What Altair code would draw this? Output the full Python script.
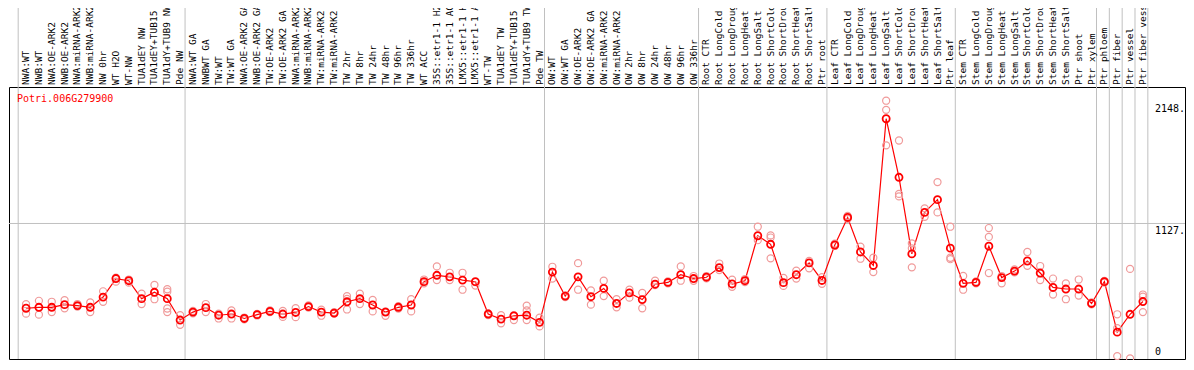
import altair as alt
import pandas as pd

gene = "Potri.006G279900"

labels = [
    "NWA:WT", "NWB:WT", "NWA:OE-ARK2", "NWB:OE-ARK2", "NWA:miRNA-ARK2", "NWB:miRNA-ARK2",
    "NW 0hr", "WT H2O", "WT-NW", "TUA1dEY NW", "TUA1dEY+TUB15", "TUA1dY+TUB9 NW", "Pde NW",
    "NWA:WT GA", "NWBWT GA", "TW:WT", "TW:WT GA", "NWA:OE-ARK2 GA", "NWB:OE-ARK2 GA",
    "TW:OE-ARK2", "TW:OE-ARK2 GA", "NWA:miRNA-ARK2", "NWB:miRNA-ARK2", "TW:miRNA-ARK2",
    "TW:miRNA-ARK2", "TW 2hr", "TW 8hr", "TW 24hr", "TW 48hr", "TW 96hr", "TW 336hr",
    "WT ACC", "35S::etr1-1 H2O", "35S::etr1-1 ACC", "LMX5::etr1-1 H2O", "LMX5::etr1-1 ACC",
    "WT-TW", "TUA1dEY TW", "TUA1dEY+TUB15", "TUA1dY+TUB9 TW", "Pde TW",
    "OW:WT", "OW:WT GA", "OW:OE-ARK2", "OW:OE-ARK2 GA", "OW:miRNA-ARK2", "OW:miRNA-ARK2",
    "OW 2hr", "OW 8hr", "OW 24hr", "OW 48hr", "OW 96hr", "OW 336hr",
    "Root CTR", "Root LongCold", "Root LongDrought", "Root LongHeat", "Root LongSalt",
    "Root ShortCold", "Root ShortDrought", "Root ShortHeat", "Root ShortSalt", "Ptr root",
    "Leaf CTR", "Leaf LongCold", "Leaf LongDrought", "Leaf LongHeat", "Leaf LongSalt",
    "Leaf ShortCold", "Leaf ShortDrought", "Leaf ShortHeat", "Leaf ShortSalt", "Ptr leaf",
    "Stem CTR", "Stem LongCold", "Stem LongDrought", "Stem LongHeat", "Stem LongSalt",
    "Stem ShortCold", "Stem ShortDrought", "Stem ShortHeat", "Stem ShortSalt", "Ptr shoot",
    "Ptr xylem", "Ptr phloem", "Ptr fiber", "Ptr vessel", "Ptr fiber vessel",
]

means = [
    422, 430, 430, 452, 444, 430, 515, 669, 651, 502, 555, 502, 324,
    390, 427, 364, 374, 337, 369, 396, 374, 387, 436, 390, 382, 476, 502, 449, 390,
    430, 449, 643, 696, 683, 656, 643, 374, 332, 359, 364, 305,
    723, 523, 683, 518, 587, 462, 550, 494, 622, 637, 701, 669,
    680, 760, 624, 651, 1025, 954, 635, 701, 799, 653,
    948, 1177, 890, 778, 1998, 1511, 874, 1219, 1325, 922,
    629, 637, 938, 677, 731, 815, 715, 595, 582, 582, 462,
    643, 223, 372, 478,
]

replicates = [
    [456, 377], [484, 369], [476, 390], [489, 422], [457, 436], [470, 390],
    [563, 476], [677, 643], [661, 635], [544, 457], [616, 497], [580, 560, 420, 390],
    [364, 284],
    [400, 380], [457, 390], [377, 337], [404, 337], [345, 330], [375, 362], [405, 390],
    [400, 350], [422, 348], [445, 428], [410, 360], [390, 378], [523, 412, 500],
    [544, 457], [491, 396], [395, 359], [440, 420], [497, 396], [661, 630], [770, 656],
    [717, 656], [717, 576], [611, 640], [380, 365], [364, 297], [365, 324],
    [444, 404, 324], [343, 271],
    [767, 669], [530, 515], [797, 576], [571, 452], [651, 523], [497, 430], [576, 510],
    [550, 422], [651, 615], [645, 630], [770, 651], [690, 650],
    [690, 670], [794, 740], [660, 600], [665, 640], [1100, 988], [1028, 1010, 837],
    [675, 608], [735, 669], [815, 754], [680, 625],
    [960, 940], [1190, 1165], [935, 834], [842, 723], [2148, 2072, 1777],
    [1817, 1373, 1352], [962, 920, 762], [1253, 1182], [1471, 1219], [1100, 842, 830],
    [691, 576], [645, 630], [1089, 1015, 715], [690, 629], [745, 720], [890, 775],
    [773, 656], [669, 536], [629, 497], [661, 528], [470, 455],
    [650, 635], [372, 257, 24], [749, 5], [536, 518, 390],
]

group_breaks = [0, 13, 41, 53, 63, 73, 84, 85, 86, 87, 88]
tick_values = [1127, 2148]
tick_labels = ["1127.", "2148."]
zero_label = ["0"]

W, H = 1176, 272
PAD_TOP = 79
FONT = "DejaVu Sans Mono"
xs = alt.Scale(domain=[-1.33, 90.28], nice=False, zero=False)
ys = alt.Scale(domain=[0, 2262], nice=False, zero=False)

df_mean = pd.DataFrame({"i": list(range(len(means))), "label": labels, "mean": means})
df_rep = pd.DataFrame(
    [{"i": i, "v": v} for i, vals in enumerate(replicates) for v in vals]
)
df_sep = pd.DataFrame({"b": [b - 0.615 for b in group_breaks]})
df_grid = pd.DataFrame({"v": [1127]})
df_ticks = pd.DataFrame({"v": tick_values, "t": tick_labels})
df_zero = pd.DataFrame({"v": [0], "t": zero_label})

X = lambda f: alt.X(f, scale=xs, axis=None)
Y = lambda f: alt.Y(f, scale=ys, axis=None)

seps = alt.Chart(df_sep).mark_rule(color="#c0c0c0", strokeWidth=1).encode(
    x=X("b:Q"), y=alt.value(-PAD_TOP), y2=alt.value(H)
)
grid = alt.Chart(df_grid).mark_rule(color="#c0c0c0", strokeWidth=1).encode(
    y=Y("v:Q"), x=alt.value(0), x2=alt.value(W)
)
cat_text = alt.Chart(df_mean).mark_text(
    angle=270, align="left", baseline="middle", font=FONT, fontSize=9.5, color="black"
).encode(x=X("i:Q"), y=alt.value(-2), text="label:N")

title = alt.Chart(pd.DataFrame({"t": [gene]})).mark_text(
    align="left", baseline="middle", font=FONT, fontSize=10, color="#ff0000"
).encode(x=alt.value(8), y=alt.value(12), text="t:N")

line = alt.Chart(df_mean).mark_line(color="#ff0000", strokeWidth=1.2).encode(
    x=X("i:Q"), y=Y("mean:Q")
)
reps = alt.Chart(df_rep).mark_point(
    shape="circle", filled=False, size=50, color="#f09a9a", strokeWidth=1.2, opacity=1
).encode(x=X("i:Q"), y=Y("v:Q"))
mean_pts = alt.Chart(df_mean).mark_point(
    shape="circle", filled=False, size=50, color="#ff0000", strokeWidth=1.8, opacity=1
).encode(x=X("i:Q"), y=Y("mean:Q"))

tick_text = alt.Chart(df_ticks).mark_text(
    align="left", baseline="top", dy=3, font=FONT, fontSize=10, color="black"
).encode(x=alt.value(1146), y=Y("v:Q"), text="t:N")
zero_text = alt.Chart(df_zero).mark_text(
    align="left", baseline="bottom", dy=-2, font=FONT, fontSize=10, color="black"
).encode(x=alt.value(1146), y=Y("v:Q"), text="t:N")

chart = alt.layer(
    seps, grid, cat_text, title, line, reps, mean_pts, tick_text, zero_text
).properties(
    width=W,
    height=H,
    padding={"left": 1, "top": PAD_TOP, "right": 1, "bottom": 1},
    autosize=alt.AutoSizeParams(type="none"),
    background="white",
).configure_view(stroke="black", strokeWidth=1)

chart.save("out.html", embed_options={"renderer": "svg", "actions": False})
